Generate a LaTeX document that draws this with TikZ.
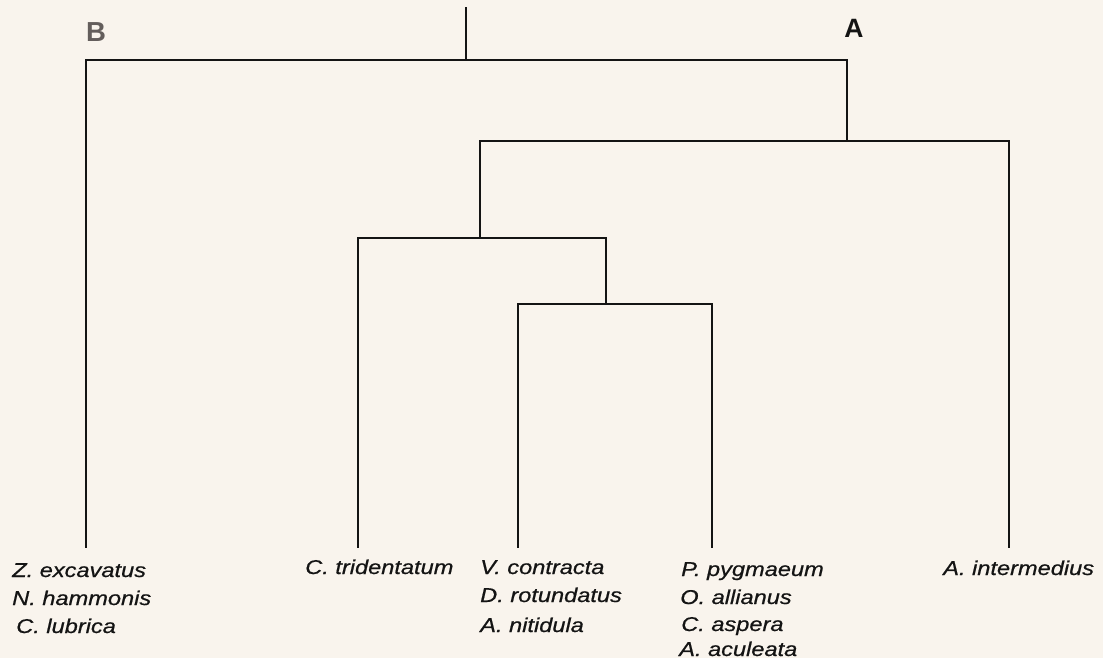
\documentclass[tikz,border=0pt]{standalone}
\usepackage{fontspec}
\setmainfont{Liberation Sans}
\newfontfamily\taxonfont[FakeBold=0.6]{Liberation Sans}
\definecolor{paper}{RGB}{249,244,237}
\definecolor{ink}{RGB}{20,20,20}
\definecolor{greyink}{RGB}{100,94,92}
\tikzset{
  branch/.style={draw=ink, line width=1.7pt, line cap=rect},
  taxon/.style={anchor=base west, inner sep=0pt, text=ink,
    font=\taxonfont\fontsize{20}{24}\selectfont\itshape, xscale=1.18},
  clade/.style={anchor=base, inner sep=0pt,
    font=\fontsize{26.5}{30}\selectfont\bfseries},
}
\begin{document}
\begin{tikzpicture}[x=1pt, y=-1pt]
  \fill[paper] (0,0) rectangle (1103,658);
  \useasboundingbox (0,0) rectangle (1103,658);

  % junctions of the tree
  \coordinate (top)   at (466,8);
  \coordinate (root)  at (466,60);
  \coordinate (cA)    at (847,60);
  \coordinate (nA)    at (847,141);
  \coordinate (n2)    at (480,238);
  \coordinate (n3)    at (606,304);
  % leaf ends
  \coordinate (lZ)    at (86,547);
  \coordinate (lC)    at (358,547);
  \coordinate (lV)    at (518,547);
  \coordinate (lP)    at (712,547);
  \coordinate (lI)    at (1009,547);

  % clade letters
  \node[clade, text=greyink, font=\fontsize{27.5}{30}\selectfont\bfseries] (B) at (96,42) {B};
  \node[clade, text=ink]     (A) at (854,38) {A};

  % branches
  \draw[branch] (top) -- (root);
  \draw[branch] (lZ) |- (cA) -- (nA);
  \draw[branch] (n2) |- (nA) -| (lI);
  \draw[branch] (lC) |- (n2) -| (n3);
  \draw[branch] (lV) |- (n3) -| (lP);

  % taxon names
  \node[taxon] (z1) at (12,577)  {Z. excavatus};
  \node[taxon] (z2) at (12,605)  {N. hammonis};
  \node[taxon] (z3) at (16,633)  {C. lubrica};

  \node[taxon] (c1) at (305,574) {C. tridentatum};

  \node[taxon] (v1) at (480,574) {V. contracta};
  \node[taxon] (v2) at (480,602) {D. rotundatus};
  \node[taxon] (v3) at (480,632) {A. nitidula};

  \node[taxon] (p1) at (681,576) {P. pygmaeum};
  \node[taxon] (p2) at (680,604) {O. allianus};
  \node[taxon] (p3) at (681,631) {C. aspera};
  \node[taxon] (p4) at (679,656) {A. aculeata};

  \node[taxon] (i1) at (943,575) {A. intermedius};
\end{tikzpicture}
\end{document}
